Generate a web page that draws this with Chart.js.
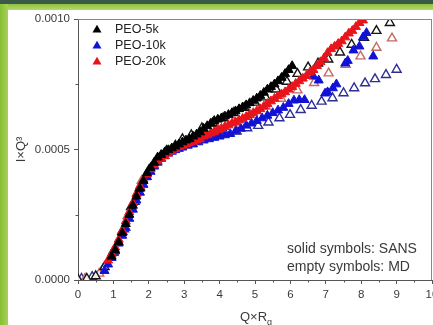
<!DOCTYPE html>
<html><head><meta charset="utf-8">
<script src="https://cdn.jsdelivr.net/npm/chart.js@4.4.1/dist/chart.umd.min.js"></script>
<style>
html,body{margin:0;padding:0;background:#fff;}
#wrap{position:relative;width:433px;height:325px;overflow:hidden;background:#fff;}
#topdark{position:absolute;left:0;top:0;width:433px;height:4px;background:#3b5848;}
#topgreen{position:absolute;left:0;top:4px;width:433px;height:6px;background:linear-gradient(#8fc13f,#b5d96e);}
#left{position:absolute;left:0;top:4px;width:8px;height:321px;background:linear-gradient(90deg,#86bf35,#a6d156);}
canvas{position:absolute;left:0;top:0;}
</style></head><body>
<div id="wrap"><div id="topdark"></div><div id="topgreen"></div><div id="left"></div>
<canvas id="c" width="433" height="325"></canvas></div>
<script>
// ---- data (x = Q×Rg, y = I×Q^3) ----
const seriesNames = ['PEO-5k', 'PEO-10k', 'PEO-20k'];
const xTickValues = [0,1,2,3,4,5,6,7,8,9,10];
const xMinorTicks = [0.5,1.5,2.5,3.5,4.5,5.5,6.5,7.5,8.5,9.5];
const yTickValues = [0, 0.0005, 0.0010];
const yMinorTicks = [0.00025, 0.00075];

// SANS (solid symbols)
const x5kSANS = [0.95,1.05,1.15,1.25,1.35,1.45,1.55,1.65,1.75,1.85,1.95,2.05,2.15,2.25,2.35,2.45,2.55,2.65,2.75,2.85,2.95,3.05,3.15,3.25,3.35,3.45,3.55,3.65,3.75,3.85,3.95,4.05,4.15,4.25,4.35,4.45,4.55,4.65,4.75,4.85,4.95,5.05,5.15,5.25,5.35,5.45,5.55,5.65,5.75,5.85,5.95,6.05];
const y5kSANS = [0.90e-4,1.15e-4,1.45e-4,1.80e-4,2.15e-4,2.50e-4,2.85e-4,3.20e-4,3.50e-4,3.80e-4,4.10e-4,4.30e-4,4.50e-4,4.70e-4,4.80e-4,4.90e-4,4.98e-4,5.05e-4,5.12e-4,5.20e-4,5.28e-4,5.35e-4,5.40e-4,5.50e-4,5.58e-4,5.66e-4,5.80e-4,5.90e-4,6.00e-4,6.10e-4,6.15e-4,6.20e-4,6.27e-4,6.33e-4,6.40e-4,6.47e-4,6.55e-4,6.62e-4,6.70e-4,6.78e-4,6.87e-4,6.96e-4,7.06e-4,7.18e-4,7.30e-4,7.40e-4,7.50e-4,7.62e-4,7.75e-4,7.90e-4,8.05e-4,8.20e-4];

const x10kSANS = [0.75,0.85,0.95,1.05,1.15,1.25,1.35,1.45,1.55,1.65,1.75,1.85,1.95,2.05,2.15,2.25,2.35,2.45,2.55,2.65,2.75,2.85,2.95,3.1,3.25,3.4,3.55,3.7,3.85,4.0,4.15,4.3,4.45,4.6,4.75,4.9,5.05,5.2,5.35,5.5,5.65,5.8,5.95,6.1,6.25,6.4,6.65,6.8,6.98,7.05,7.2,7.3,7.55,7.62,7.78,7.95,8.05,8.15,8.34];
const y10kSANS = [0.35e-4,0.60e-4,0.85e-4,1.10e-4,1.40e-4,1.70e-4,2.00e-4,2.35e-4,2.70e-4,3.05e-4,3.35e-4,3.65e-4,3.95e-4,4.15e-4,4.35e-4,4.50e-4,4.65e-4,4.75e-4,4.85e-4,4.92e-4,4.98e-4,5.03e-4,5.08e-4,5.15e-4,5.20e-4,5.28e-4,5.35e-4,5.40e-4,5.45e-4,5.50e-4,5.55e-4,5.60e-4,5.70e-4,5.80e-4,5.92e-4,6.00e-4,6.10e-4,6.20e-4,6.30e-4,6.40e-4,6.50e-4,6.60e-4,6.75e-4,6.88e-4,6.90e-4,6.90e-4,7.80e-4,7.65e-4,7.15e-4,7.20e-4,7.35e-4,7.50e-4,8.30e-4,8.40e-4,8.80e-4,8.95e-4,9.30e-4,9.47e-4,8.57e-4];

const x20kSANS = [0.85,0.95,1.05,1.15,1.25,1.35,1.45,1.55,1.65,1.75,1.85,1.95,2.05,2.15,2.25,2.35,2.45,2.55,2.65,2.75,2.85,2.95,3.05,3.15,3.25,3.35,3.45,3.55,3.65,3.75,3.85,3.95,4.05,4.15,4.25,4.35,4.45,4.55,4.65,4.75,4.85,4.95,5.05,5.15,5.25,5.35,5.45,5.55,5.65,5.75,5.85,5.95,6.05,6.15,6.25,6.35,6.45,6.55,6.65,6.75,6.85,6.95,7.05,7.15,7.25,7.35,7.45,7.55,7.65,7.75,7.85,7.95,8.05];
const y20kSANS = [0.75e-4,1.00e-4,1.25e-4,1.55e-4,1.90e-4,2.25e-4,2.60e-4,2.95e-4,3.30e-4,3.60e-4,3.85e-4,4.05e-4,4.25e-4,4.40e-4,4.55e-4,4.65e-4,4.75e-4,4.85e-4,4.95e-4,5.02e-4,5.10e-4,5.15e-4,5.20e-4,5.25e-4,5.30e-4,5.35e-4,5.40e-4,5.50e-4,5.55e-4,5.62e-4,5.68e-4,5.75e-4,5.80e-4,5.87e-4,5.93e-4,6.00e-4,6.05e-4,6.12e-4,6.18e-4,6.25e-4,6.32e-4,6.40e-4,6.47e-4,6.55e-4,6.65e-4,6.75e-4,6.85e-4,6.95e-4,7.05e-4,7.12e-4,7.20e-4,7.30e-4,7.40e-4,7.52e-4,7.62e-4,7.72e-4,7.82e-4,7.95e-4,8.05e-4,8.20e-4,8.35e-4,8.50e-4,8.70e-4,8.85e-4,8.95e-4,9.05e-4,9.15e-4,9.30e-4,9.45e-4,9.55e-4,9.70e-4,9.85e-4,9.95e-4];

// MD (empty symbols)
const x5kMD = [0.0,0.25,0.5,0.75,1.0,1.25,1.5,1.75,2.0,2.25,2.5,2.75,2.95,3.2,3.5,3.8,4.1,4.4,4.7,5.0,5.3,5.6,5.9,6.2,6.5,6.78,7.07,7.4,7.73,8.08,8.43,8.81];
const y5kMD = [0.02e-4,0.05e-4,0.15e-4,0.50e-4,1.10e-4,1.85e-4,2.80e-4,3.55e-4,4.20e-4,4.65e-4,4.95e-4,5.15e-4,5.40e-4,5.55e-4,5.82e-4,6.00e-4,6.20e-4,6.40e-4,6.60e-4,6.80e-4,7.00e-4,7.30e-4,7.60e-4,7.90e-4,8.15e-4,8.30e-4,8.45e-4,8.72e-4,9.02e-4,9.28e-4,9.55e-4,9.85e-4];

const x10kMD = [0.1,0.4,0.7,1.0,1.3,1.6,1.9,2.2,2.5,2.8,3.1,3.5,3.82,4.15,4.48,4.78,5.09,5.38,5.69,5.99,6.29,6.6,6.88,7.19,7.5,7.8,8.11,8.39,8.7,9.0];
const y10kMD = [0.05e-4,0.12e-4,0.40e-4,1.05e-4,1.95e-4,3.00e-4,3.95e-4,4.55e-4,4.90e-4,5.10e-4,5.25e-4,5.50e-4,5.56e-4,5.63e-4,5.69e-4,5.82e-4,5.91e-4,6.04e-4,6.20e-4,6.33e-4,6.52e-4,6.68e-4,6.84e-4,6.97e-4,7.16e-4,7.35e-4,7.54e-4,7.70e-4,7.86e-4,8.06e-4];

const x20kMD = [0.2,0.6,1.0,1.4,1.8,2.2,2.6,3.05,3.5,3.95,4.4,4.85,5.3,5.74,6.2,6.67,7.08,7.56,7.98,8.43,8.87];
const y20kMD = [0.05e-4,0.25e-4,1.10e-4,2.45e-4,3.80e-4,4.55e-4,4.95e-4,5.30e-4,5.55e-4,5.80e-4,6.05e-4,6.35e-4,6.65e-4,6.95e-4,7.27e-4,7.55e-4,7.92e-4,8.25e-4,8.57e-4,8.90e-4,9.26e-4];

const colorsSolid = ['#000000', '#1212d6', '#e8141c'];
const colorsEmpty = ['#151515', '#2e2e96', '#c46a66'];

const R = 5.2;
const pts = (xs, ys) => xs.map((x, i) => ({x: x, y: ys[i]}));
const solid = (label, xs, ys, c) => ({label, data: pts(xs, ys), pointStyle: 'triangle', pointRadius: R, backgroundColor: c, borderColor: c, borderWidth: 1, showLine: false});
const empty = (label, xs, ys, c) => ({label, data: pts(xs, ys), pointStyle: 'triangle', pointRadius: R, backgroundColor: 'rgba(255,255,255,0.85)', borderColor: c, borderWidth: 1.4, showLine: false});

const datasets = [
  solid(seriesNames[0] + ' SANS', x5kSANS, y5kSANS, colorsSolid[0]),
  solid(seriesNames[2] + ' SANS', x20kSANS, y20kSANS, colorsSolid[2]),
  solid(seriesNames[1] + ' SANS', x10kSANS, y10kSANS, colorsSolid[1]),
  empty(seriesNames[0] + ' MD', x5kMD, y5kMD, colorsEmpty[0]),
  empty(seriesNames[2] + ' MD', x20kMD, y20kMD, colorsEmpty[2]),
  empty(seriesNames[1] + ' MD', x10kMD, y10kMD, colorsEmpty[1])
];

const FONT = 'Liberation Sans, Arial, sans-serif';
const AXIS = '#555';
const TXT = '#3a3a3a';

const decor = {
  id: 'decor',
  afterDraw(chart) {
    const ctx = chart.ctx, xs = chart.scales.x, ys = chart.scales.y, a = chart.chartArea;
    ctx.save();
    // frame top & right
    ctx.strokeStyle = '#888'; ctx.lineWidth = 1;
    ctx.beginPath();
    ctx.moveTo(a.left, Math.round(a.top) + 0.5); ctx.lineTo(a.right, Math.round(a.top) + 0.5);
    ctx.moveTo(Math.round(a.right) - 0.5, a.top); ctx.lineTo(Math.round(a.right) - 0.5, a.bottom);
    ctx.stroke();
    // minor ticks
    ctx.strokeStyle = AXIS;
    ctx.beginPath();
    xMinorTicks.forEach(v => { const p = Math.round(xs.getPixelForValue(v)) + 0.5; ctx.moveTo(p, a.bottom); ctx.lineTo(p, a.bottom + 2.5); });
    yMinorTicks.forEach(v => { const p = Math.round(ys.getPixelForValue(v)) + 0.5; ctx.moveTo(a.left, p); ctx.lineTo(a.left - 2.5, p); });
    ctx.stroke();
    // axis titles
    ctx.fillStyle = TXT;
    ctx.font = '13px ' + FONT;
    ctx.save();
    ctx.translate(21, (a.top + a.bottom) / 2);
    ctx.rotate(-Math.PI / 2);
    ctx.textAlign = 'center'; ctx.textBaseline = 'middle';
    ctx.fillText('I\u00d7Q\u00b3', 0, 0);
    ctx.restore();
    ctx.font = '13px ' + FONT;
    ctx.textBaseline = 'middle'; ctx.textAlign = 'left';
    const t = 'Q\u00d7R';
    const w = ctx.measureText(t).width;
    ctx.font = '9px ' + FONT;
    const wg = ctx.measureText('g').width;
    const cx = 256;
    const x0 = cx - (w + wg) / 2;
    ctx.font = '13px ' + FONT;
    ctx.fillText(t, x0, 317);
    ctx.font = '9px ' + FONT;
    ctx.fillText('g', x0 + w, 323);
    // annotation
    ctx.font = '14px ' + FONT;
    ctx.fillStyle = TXT;
    ctx.fillText('solid symbols: SANS', 287, 249);
    ctx.fillText('empty symbols: MD', 287, 267);
    // legend
    const rows = [30, 46, 62];
    seriesNames.forEach((n, i) => {
      ctx.fillStyle = colorsSolid[i];
      ctx.beginPath();
      ctx.moveTo(97, rows[i] - R); ctx.lineTo(97 + R * 0.866, rows[i] + R * 0.5); ctx.lineTo(97 - R * 0.866, rows[i] + R * 0.5); ctx.closePath();
      ctx.fill();
      ctx.fillStyle = '#222';
      ctx.font = '12.5px ' + FONT;
      ctx.fillText(n, 115, rows[i]);
    });
    ctx.restore();
  }
};

new Chart(document.getElementById('c'), {
  type: 'scatter',
  data: {datasets},
  options: {
    responsive: false, devicePixelRatio: 1, animation: false,
    layout: {autoPadding: false, padding: {left: 0, top: 19, right: 1, bottom: 0}},
    plugins: {legend: {display: false}, tooltip: {enabled: false}},
    scales: {
      x: {
        type: 'linear', min: 0, max: 10,
        afterBuildTicks: s => { s.ticks = xTickValues.map(v => ({value: v})); },
        afterFit: s => { s.height = 45; s.paddingLeft = 0; s.paddingRight = 0; },
        ticks: {color: TXT, font: {size: 11.5, family: FONT}, padding: 4, maxRotation: 0, autoSkip: false, callback: v => String(v)},
        grid: {drawOnChartArea: false, drawTicks: true, tickLength: 4, color: AXIS},
        border: {display: true, color: AXIS, width: 1}
      },
      y: {
        type: 'linear', min: 0, max: 0.0010,
        afterBuildTicks: s => { s.ticks = yTickValues.map(v => ({value: v})); },
        afterFit: s => { s.width = 78; s.paddingTop = 0; s.paddingBottom = 0; },
        ticks: {color: TXT, font: {size: 11.5, family: FONT}, padding: 4, autoSkip: false, callback: v => Number(v).toFixed(4)},
        grid: {drawOnChartArea: false, drawTicks: true, tickLength: 4, color: AXIS},
        border: {display: true, color: AXIS, width: 1}
      }
    }
  },
  plugins: [decor]
});
</script>
</body></html>
